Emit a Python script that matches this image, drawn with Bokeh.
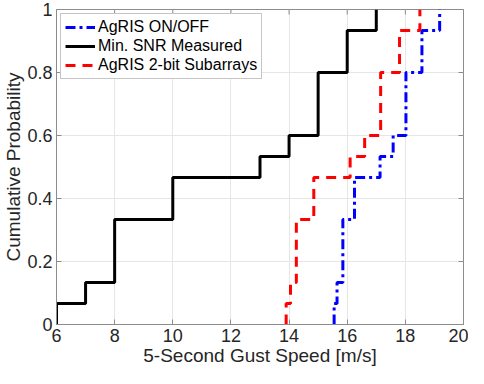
import math
from bokeh.plotting import figure
from bokeh.models import Range1d, FixedTicker, Legend, LegendItem
from bokeh.embed import file_html
from bokeh.resources import INLINE

# Samples (15 samples per series)
snr_min = [6, 7, 8, 8, 8, 10, 10, 13, 14, 15, 15, 15, 16, 16, 17]
agris_onoff = [15.55, 15.65, 15.85, 15.85, 15.85, 16.25, 16.25, 17.13, 17.58,
               18.02, 18.02, 18.02, 18.57, 18.57, 19.18]
agris_2bit = [13.9, 14.05, 14.25, 14.25, 14.25, 14.85, 14.85, 16.1, 16.6,
              17.15, 17.15, 17.15, 17.8, 17.8, 18.5]

x_ticks = [6, 8, 10, 12, 14, 16, 18, 20]
y_ticks = [0, 0.2, 0.4, 0.6, 0.8, 1]
y_tick_labels = ["0", "0.2", "0.4", "0.6", "0.8", "1"]

X_MIN, X_MAX = 6, 20
Y_MIN, Y_MAX = 0, 1

FONT = "Liberation Sans"
AXIS_GRAY = "#8c8c8c"


def ecdf_steps(samples):
    s = sorted(samples)
    n = len(s)
    uniq = []
    frac = []
    for i, v in enumerate(s):
        if uniq and uniq[-1] == v:
            frac[-1] = (i + 1) / n
        else:
            uniq.append(v)
            frac.append((i + 1) / n)
    xs, ys = [uniq[0]], [0.0]
    prev = 0.0
    for v, f in zip(uniq, frac):
        xs += [v, v]
        ys += [prev, f]
        prev = f
    return xs, ys


p = figure(width=468, height=368, output_backend="svg", toolbar_location=None,
           x_range=Range1d(X_MIN, X_MAX), y_range=Range1d(Y_MIN, Y_MAX),
           min_border_left=40, min_border_right=5, min_border_top=9,
           min_border_bottom=40)

p.background_fill_color = "white"
p.border_fill_color = "white"
p.outline_line_color = AXIS_GRAY
p.outline_line_width = 1

for ax in (p.xaxis[0], p.yaxis[0]):
    ax.axis_line_color = AXIS_GRAY
    ax.major_tick_line_color = AXIS_GRAY
    ax.major_tick_in = 5
    ax.major_tick_out = 0
    ax.minor_tick_line_color = None
    ax.major_label_text_font = FONT
    ax.major_label_text_font_size = "18px"
    ax.major_label_text_color = "#262626"
    ax.axis_label_text_font = FONT
    ax.axis_label_text_font_size = "19px"
    ax.axis_label_text_font_style = "normal"
    ax.axis_label_text_color = "#262626"
    ax.major_label_standoff = 4

p.xaxis[0].ticker = FixedTicker(ticks=x_ticks)
p.yaxis[0].ticker = FixedTicker(ticks=y_ticks)
p.yaxis[0].major_label_overrides = {t: l for t, l in zip(y_ticks, y_tick_labels)}
p.xaxis[0].axis_label = "5-Second Gust Speed [m/s]"
p.yaxis[0].axis_label = "Cumulative Probability"
p.xaxis[0].axis_label_standoff = 0
p.yaxis[0].axis_label_standoff = 0

p.xgrid.ticker = FixedTicker(ticks=x_ticks)
p.ygrid.ticker = FixedTicker(ticks=y_ticks)
p.xgrid.grid_line_color = "#e6e6e6"
p.ygrid.grid_line_color = "#e6e6e6"

# mirrored tick marks on the top and right edges (box on), clipped to the frame
p.scatter(x=x_ticks, y=[Y_MAX] * len(x_ticks), marker="dash", size=10,
          angle=math.pi / 2, line_color=AXIS_GRAY, line_width=1)
p.scatter(x=[X_MAX] * len(y_ticks), y=y_ticks, marker="dash", size=10,
          line_color=AXIS_GRAY, line_width=1)

bx, by = ecdf_steps(agris_onoff)
kx, ky = ecdf_steps(snr_min)
rx, ry = ecdf_steps(agris_2bit)

r_blue = p.line(bx, by, line_color="#0000ff", line_width=3, line_dash="10 4 3 4")
r_black = p.line(kx, ky, line_color="black", line_width=3)
r_red = p.line(rx, ry, line_color="#ff0000", line_width=3, line_dash="10 7")

legend = Legend(items=[
    LegendItem(label="AgRIS ON/OFF", renderers=[r_blue]),
    LegendItem(label="Min. SNR Measured", renderers=[r_black]),
    LegendItem(label="AgRIS 2-bit Subarrays", renderers=[r_red]),
], location="top_left")
legend.label_text_font = FONT
legend.label_text_font_size = "16px"
legend.label_text_color = "#000000"
legend.border_line_color = AXIS_GRAY
legend.border_line_width = 1
legend.background_fill_color = "white"
legend.background_fill_alpha = 1
legend.glyph_width = 30
legend.glyph_height = 18
legend.label_standoff = 3
legend.label_height = 18
legend.spacing = 1
legend.padding = 4
legend.margin = 4
p.add_layout(legend)

open("out.html", "w").write(file_html(p, INLINE))
